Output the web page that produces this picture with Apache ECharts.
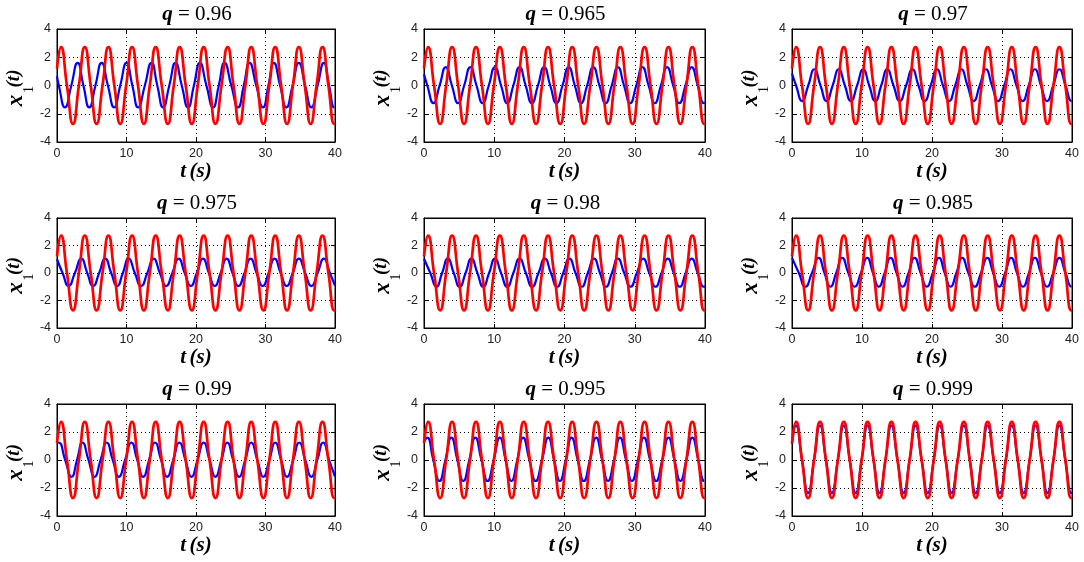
<!DOCTYPE html>
<html>
<head>
<meta charset="utf-8">
<script src="https://cdn.jsdelivr.net/npm/echarts@6/dist/echarts.min.js"></script>
<style>
  html, body { margin: 0; padding: 0; background: #fff; }
  #chart { width: 1084px; height: 562px; }
</style>
</head>
<body>
<div id="chart"></div>
<script>
// subplot titles, read left to right, top to bottom
const qValues = ['0.96', '0.965', '0.97', '0.975', '0.98', '0.985', '0.99', '0.995', '0.999'];

const xTicks = [0, 10, 20, 30, 40];
const yTicks = [-4, -2, 0, 2, 4];

// red curve, the same in every panel: [t, x1]
const redCurve = [[0,1.2],[0.57,2.72],[1.43,0],[2.3,-2.72],[3.15,0],[4.0,2.72],[4.85,0],[5.7,-2.72],[6.55,0],[7.4,2.72],[8.25,0],[9.1,-2.72],[9.95,0],[10.8,2.72],[11.65,0],[12.5,-2.72],[13.35,0],[14.2,2.72],[15.07,0],[15.95,-2.72],[16.8,0],[17.65,2.72],[18.52,0],[19.4,-2.72],[20.25,0],[21.1,2.72],[21.95,0],[22.8,-2.72],[23.67,0],[24.55,2.72],[25.4,0],[26.25,-2.72],[27.1,0],[27.95,2.72],[28.82,0],[29.7,-2.72],[30.55,0],[31.4,2.72],[32.25,0],[33.1,-2.72],[33.95,0],[34.8,2.72],[35.65,0],[36.5,-2.72],[37.35,0],[38.2,2.72],[39.05,0],[39.9,-2.72],[40,-2.7]];

// blue curves, one per q
const blue096 = [[0,0.66],[0.26,0],[1.15,-1.55],[2.06,0],[2.97,1.6],[3.8,0],[4.64,-1.55],[5.53,0],[6.42,1.6],[7.32,0],[8.23,-1.55],[9.1,0],[10.0,1.6],[10.84,0],[11.68,-1.55],[12.64,0],[13.6,1.6],[14.43,0],[15.27,-1.55],[16.16,0],[17.05,1.6],[17.95,0],[18.86,-1.55],[19.7,0],[20.55,1.6],[21.5,0],[22.46,-1.55],[23.28,0],[24.1,1.6],[25.08,0],[26.05,-1.55],[26.88,0],[27.7,1.6],[28.67,0],[29.64,-1.55],[30.42,0],[31.2,1.6],[32.1,0],[33.0,-1.55],[33.9,0],[34.8,1.6],[35.7,0],[36.6,-1.55],[37.5,0],[38.4,1.6],[39.15,0],[39.9,-1.55],[40,-1.55]];
const blue0965 = [[0,0.8],[0.47,0],[1.35,-1.25],[2.22,0],[3.1,1.3],[3.97,0],[4.85,-1.25],[5.72,0],[6.6,1.3],[7.47,0],[8.35,-1.25],[9.22,0],[10.1,1.3],[10.97,0],[11.85,-1.25],[12.72,0],[13.6,1.3],[14.47,0],[15.35,-1.25],[16.22,0],[17.1,1.3],[17.97,0],[18.85,-1.25],[19.72,0],[20.6,1.3],[21.47,0],[22.35,-1.25],[23.22,0],[24.1,1.3],[24.97,0],[25.85,-1.25],[26.72,0],[27.6,1.3],[28.47,0],[29.35,-1.25],[30.22,0],[31.1,1.3],[31.97,0],[32.85,-1.25],[33.72,0],[34.6,1.3],[35.47,0],[36.35,-1.25],[37.22,0],[38.1,1.3],[38.97,0],[39.85,-1.25],[40,-1.24]];
const blue097 = [[0,0.85],[0.58,0],[1.45,-1.1],[2.32,0],[3.2,1.15],[4.07,0],[4.94,-1.1],[5.81,0],[6.68,1.15],[7.55,0],[8.42,-1.1],[9.3,0],[10.17,1.15],[11.03,0],[11.9,-1.1],[12.75,0],[13.6,1.15],[14.5,0],[15.4,-1.1],[16.3,0],[17.2,1.15],[18.07,0],[18.95,-1.1],[19.82,0],[20.7,1.15],[21.57,0],[22.45,-1.1],[23.32,0],[24.2,1.15],[25.07,0],[25.95,-1.1],[26.82,0],[27.7,1.15],[28.57,0],[29.45,-1.1],[30.32,0],[31.2,1.15],[32.07,0],[32.95,-1.1],[33.82,0],[34.7,1.15],[35.57,0],[36.45,-1.1],[37.32,0],[38.2,1.15],[39.07,0],[39.95,-1.1],[40,-1.1]];
const blue0975 = [[0,1.0],[0.8,0],[1.67,-0.95],[2.58,0],[3.5,1.05],[4.35,0],[5.2,-0.95],[6.07,0],[6.94,1.05],[7.8,0],[8.65,-0.95],[9.48,0],[10.3,1.05],[11.2,0],[12.1,-0.95],[13.0,0],[13.9,1.05],[14.8,0],[15.7,-0.95],[16.6,0],[17.5,1.05],[18.38,0],[19.25,-0.95],[20.12,0],[21.0,1.05],[21.85,0],[22.7,-0.95],[23.55,0],[24.4,1.05],[25.25,0],[26.1,-0.95],[26.98,0],[27.85,1.05],[28.72,0],[29.6,-0.95],[30.45,0],[31.3,1.05],[32.18,0],[33.05,-0.95],[33.92,0],[34.8,1.05],[35.7,0],[36.6,-0.95],[37.5,0],[38.4,1.05],[39.27,0],[40,-0.92]];
const blue098 = [[0,1.04],[0.9,0],[1.76,-1.0],[2.58,0],[3.4,1.05],[4.24,0],[5.08,-1.0],[5.92,0],[6.75,1.05],[7.6,0],[8.43,-1.0],[9.27,0],[10.1,1.05],[10.97,0],[11.85,-1.0],[12.72,0],[13.6,1.05],[14.5,0],[15.4,-1.0],[16.3,0],[17.2,1.05],[18.07,0],[18.95,-1.0],[19.82,0],[20.7,1.05],[21.57,0],[22.45,-1.0],[23.32,0],[24.2,1.05],[25.05,0],[25.9,-1.0],[26.75,0],[27.6,1.05],[28.5,0],[29.4,-1.0],[30.3,0],[31.2,1.05],[32.07,0],[32.95,-1.0],[33.82,0],[34.7,1.05],[35.55,0],[36.4,-1.0],[37.25,0],[38.1,1.05],[38.97,0],[39.85,-1.0],[40,-0.98]];
const blue0985 = [[0,1.1],[0.98,0],[1.9,-1.0],[2.85,0],[3.8,1.1],[4.64,0],[5.48,-1.0],[6.32,0],[7.16,1.1],[8.05,0],[8.95,-1.0],[9.85,0],[10.74,1.1],[11.57,0],[12.4,-1.0],[13.24,0],[14.08,1.1],[14.94,0],[15.8,-1.0],[16.65,0],[17.5,1.1],[18.38,0],[19.25,-1.0],[20.12,0],[21.0,1.1],[21.82,0],[22.65,-1.0],[23.48,0],[24.3,1.1],[25.2,0],[26.1,-1.0],[27.0,0],[27.9,1.1],[28.75,0],[29.6,-1.0],[30.45,0],[31.3,1.1],[32.15,0],[33.0,-1.0],[33.85,0],[34.7,1.1],[35.57,0],[36.45,-1.0],[37.32,0],[38.2,1.1],[39.07,0],[39.95,-1.0],[40,-1.0]];
const blue099 = [[0,1.22],[0.25,1.25],[1.18,0],[2.1,-1.2],[2.88,0],[3.67,1.25],[4.53,0],[5.4,-1.2],[6.27,0],[7.14,1.25],[8.02,0],[8.9,-1.2],[9.8,0],[10.7,1.25],[11.55,0],[12.4,-1.2],[13.25,0],[14.1,1.25],[14.98,0],[15.85,-1.2],[16.72,0],[17.6,1.25],[18.48,0],[19.35,-1.2],[20.22,0],[21.1,1.25],[21.95,0],[22.8,-1.2],[23.65,0],[24.5,1.25],[25.35,0],[26.2,-1.2],[27.08,0],[27.95,1.25],[28.82,0],[29.7,-1.2],[30.55,0],[31.4,1.25],[32.25,0],[33.1,-1.2],[33.98,0],[34.86,1.25],[35.73,0],[36.6,-1.2],[37.45,0],[38.3,1.25],[39.15,0],[40,-1.18]];
const blue0995 = [[0,1.3],[0.45,1.6],[1.32,0],[2.2,-1.5],[3.05,0],[3.9,1.6],[4.75,0],[5.6,-1.5],[6.45,0],[7.3,1.6],[8.18,0],[9.05,-1.5],[9.92,0],[10.8,1.6],[11.62,0],[12.45,-1.5],[13.28,0],[14.1,1.6],[15.0,0],[15.9,-1.5],[16.8,0],[17.7,1.6],[18.52,0],[19.35,-1.5],[20.18,0],[21.0,1.6],[21.88,0],[22.75,-1.5],[23.62,0],[24.5,1.6],[25.35,0],[26.2,-1.5],[27.05,0],[27.9,1.6],[28.75,0],[29.6,-1.5],[30.45,0],[31.3,1.6],[32.18,0],[33.05,-1.5],[33.92,0],[34.8,1.6],[35.65,0],[36.5,-1.5],[37.35,0],[38.2,1.6],[39.05,0],[39.9,-1.5],[40,-1.5]];
const blue0999 = [[0,1.15],[0.57,2.45],[1.43,0],[2.3,-2.35],[3.15,0],[4.0,2.45],[4.85,0],[5.7,-2.35],[6.55,0],[7.4,2.45],[8.25,0],[9.1,-2.35],[9.95,0],[10.8,2.45],[11.65,0],[12.5,-2.35],[13.35,0],[14.2,2.45],[15.07,0],[15.95,-2.35],[16.8,0],[17.65,2.45],[18.52,0],[19.4,-2.35],[20.25,0],[21.1,2.45],[21.95,0],[22.8,-2.35],[23.67,0],[24.55,2.45],[25.4,0],[26.25,-2.35],[27.1,0],[27.95,2.45],[28.82,0],[29.7,-2.35],[30.55,0],[31.4,2.45],[32.25,0],[33.1,-2.35],[33.95,0],[34.8,2.45],[35.65,0],[36.5,-2.35],[37.35,0],[38.2,2.45],[39.05,0],[39.9,-2.35],[40,-2.33]];

const blueCurves = [blue096, blue0965, blue097, blue0975, blue098, blue0985, blue099, blue0995, blue0999];

// panel boxes in pixels
const colLeft = [57, 424, 792];
const colWidth = [278, 281, 280];
const rowTop = [29, 218, 404];
const rowHeight = [113, 110, 112];

const serif = '"Liberation Serif", "Times New Roman", serif';
const sans = '"Liberation Sans", Arial, sans-serif';

const chart = echarts.init(document.getElementById('chart'), null, { renderer: 'canvas' });

const grids = [], xAxes = [], yAxes = [], titles = [], series = [], labels = [];
const mirrorX = [], mirrorY = [];

// rotated y label "x1(t)" built from three pieces so the 1 sits as a subscript
function yLabel(axisX, midY) {
    const rot = Math.PI / 2;
    return [
        { type: 'text', x: axisX - 41, y: midY + 15, rotation: rot, silent: true,
          style: { text: 'x', font: 'italic bold 23px ' + serif, fill: '#000', align: 'center', verticalAlign: 'middle' } },
        { type: 'text', x: axisX - 28, y: midY + 4, rotation: rot, silent: true,
          style: { text: '1', font: '14px ' + serif, fill: '#000', align: 'center', verticalAlign: 'middle' } },
        { type: 'text', x: axisX - 43, y: midY - 7, rotation: rot, silent: true,
          style: { text: '(t)', font: 'italic bold 19px ' + serif, fill: '#000', align: 'center', verticalAlign: 'middle' } }
    ];
}

const gridLine = { show: true, lineStyle: { type: [1, 3], color: '#000', width: 1 } };
const tickIn = { show: true, inside: true, length: 4, lineStyle: { color: '#000' } };
const blackLine = { show: true, onZero: false, lineStyle: { color: '#000', width: 1 } };

qValues.forEach(function (q, i) {
    const r = Math.floor(i / 3), c = i % 3;
    grids.push({
        left: colLeft[c], top: rowTop[r], width: colWidth[c], height: rowHeight[r],
        show: true, borderColor: '#000', borderWidth: 1, backgroundColor: '#fff'
    });
    titles.push({
        text: '{q|q} = ' + q,
        left: colLeft[c] + colWidth[c] / 2 - 4,
        top: rowTop[r] - 30,
        textAlign: 'center',
        textStyle: {
            fontFamily: serif, fontSize: 21, fontWeight: 'normal', color: '#000',
            rich: {
                q: { fontFamily: serif, fontSize: 21, fontWeight: 'bold', fontStyle: 'italic', color: '#000' }
            }
        }
    });
    xAxes.push({
        type: 'value', gridIndex: i,
        min: xTicks[0], max: xTicks[xTicks.length - 1], interval: 10,
        name: '{b|t} {b|(s)}', nameLocation: 'middle', nameGap: 19,
        nameTextStyle: {
            rich: { b: { fontFamily: serif, fontSize: 21, fontWeight: 'bold', fontStyle: 'italic', color: '#000' } }
        },
        axisLine: blackLine, axisTick: tickIn,
        axisLabel: { fontFamily: sans, fontSize: 12.5, color: '#222', margin: 5 },
        splitLine: gridLine
    });
    yAxes.push({
        type: 'value', gridIndex: i,
        min: yTicks[0], max: yTicks[yTicks.length - 1], interval: 2,
        axisLine: blackLine, axisTick: tickIn,
        axisLabel: { fontFamily: sans, fontSize: 12.5, color: '#222', margin: 6 },
        splitLine: gridLine
    });
    // tick marks on the top and right edges of the box
    mirrorX.push({
        type: 'value', gridIndex: i, position: 'top',
        min: xTicks[0], max: xTicks[xTicks.length - 1], interval: 10,
        axisLine: blackLine, axisTick: tickIn, axisLabel: { show: false }, splitLine: { show: false }
    });
    mirrorY.push({
        type: 'value', gridIndex: i, position: 'right',
        min: yTicks[0], max: yTicks[yTicks.length - 1], interval: 2,
        axisLine: blackLine, axisTick: tickIn, axisLabel: { show: false }, splitLine: { show: false }
    });
    series.push({
        type: 'line', xAxisIndex: i, yAxisIndex: i,
        data: blueCurves[i], showSymbol: false, smooth: 0.55,
        lineStyle: { color: '#0000ff', width: 2.2 }, z: 2
    });
    series.push({
        type: 'line', xAxisIndex: i, yAxisIndex: i,
        data: redCurve, showSymbol: false, smooth: 0.55,
        lineStyle: { color: '#ff0000', width: 2.7 }, z: 3
    });
    labels.push.apply(labels, yLabel(colLeft[c], rowTop[r] + rowHeight[r] / 2));
});

chart.setOption({
    animation: false,
    backgroundColor: '#fff',
    title: titles,
    grid: grids,
    xAxis: xAxes.concat(mirrorX),
    yAxis: yAxes.concat(mirrorY),
    series: series,
    graphic: labels
});
</script>
</body>
</html>
